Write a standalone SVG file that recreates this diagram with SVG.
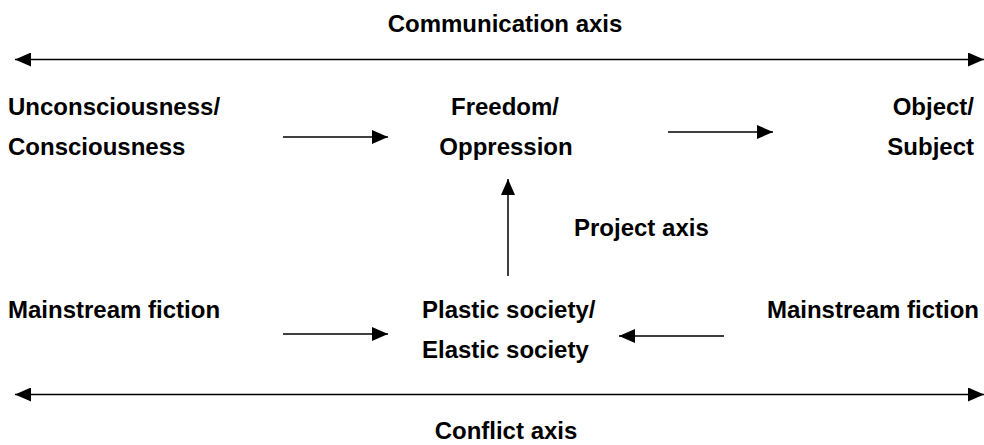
<svg xmlns="http://www.w3.org/2000/svg" width="984" height="445" viewBox="0 0 984 445">
<style>
text{font-family:"Liberation Sans",Arial,sans-serif;font-weight:bold;font-size:24px;fill:#000}
.c{text-anchor:middle}
.e{text-anchor:end}
line{stroke:#000;stroke-width:1.5;fill:none}
</style>
<defs>
<marker id="ah" viewBox="0 0 16 14" refX="16" refY="7" markerWidth="16" markerHeight="14" markerUnits="userSpaceOnUse" orient="auto-start-reverse">
<path d="M0,0 L16,7 L0,14 Z" fill="#000"/>
</marker>
</defs>
<rect width="984" height="445" fill="#fff"/>
<g id="labels">
<text class="c" x="505" y="32">Communication axis</text>
<text x="574" y="236">Project axis</text>
<text class="c" x="506" y="439">Conflict axis</text>
</g>
<g id="n-unconscious">
<text x="8" y="115">Unconsciousness/</text>
<text x="8" y="155">Consciousness</text>
</g>
<g id="n-freedom">
<text class="c" x="505" y="115">Freedom/</text>
<text class="c" x="506" y="155">Oppression</text>
</g>
<g id="n-object">
<text class="e" x="974" y="115">Object/</text>
<text class="e" x="974" y="155">Subject</text>
</g>
<g id="n-mainstream-left">
<text x="8" y="318">Mainstream fiction</text>
</g>
<g id="n-plastic">
<text x="422" y="318">Plastic society/</text>
<text x="422" y="358">Elastic society</text>
</g>
<g id="n-mainstream-right">
<text class="e" x="979" y="318">Mainstream fiction</text>
</g>
<g id="connectors">
<line x1="15" y1="59.5" x2="984" y2="59.5" marker-start="url(#ah)" marker-end="url(#ah)"/>
<line x1="15" y1="394.5" x2="984" y2="394.5" marker-start="url(#ah)" marker-end="url(#ah)"/>
<line x1="283" y1="137" x2="388" y2="137" marker-end="url(#ah)"/>
<line x1="668" y1="132" x2="773" y2="132" marker-end="url(#ah)"/>
<line x1="508" y1="276" x2="508" y2="179" marker-end="url(#ah)"/>
<line x1="283" y1="334" x2="388" y2="334" marker-end="url(#ah)"/>
<line x1="724" y1="336" x2="619" y2="336" marker-end="url(#ah)"/>
</g>
</svg>
